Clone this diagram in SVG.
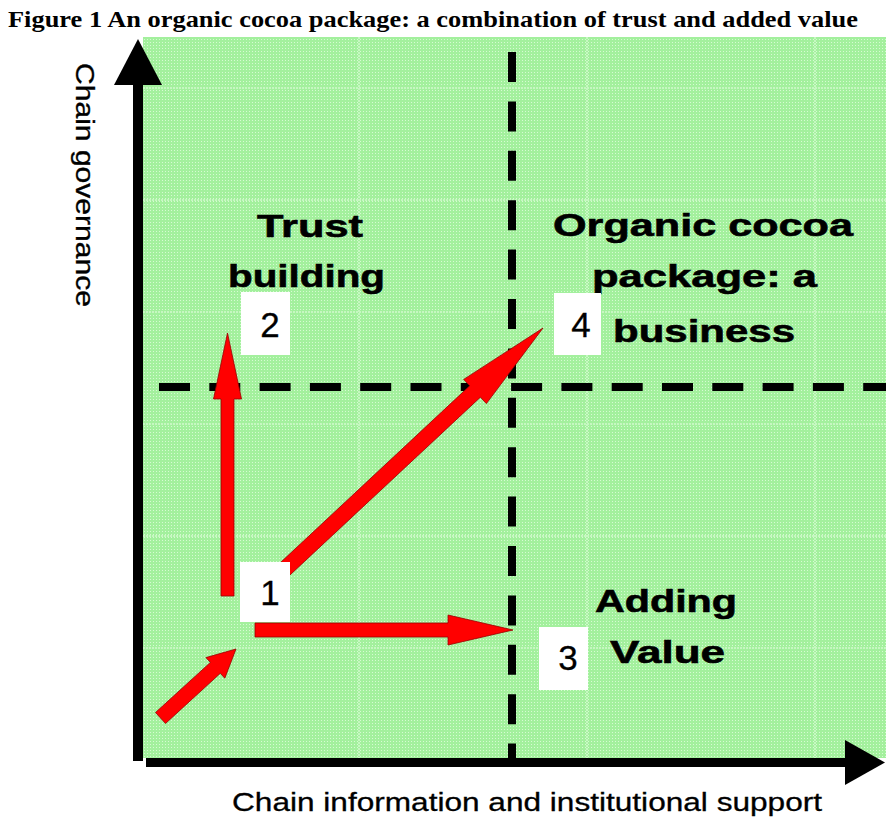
<svg xmlns="http://www.w3.org/2000/svg" width="886" height="817" viewBox="0 0 886 817">
  <style>
    .title { font-family: "Liberation Serif", "Times New Roman", serif; font-weight: bold; font-size: 23px; fill: #000; }
    .axis-label { font-family: "Liberation Sans", Arial, sans-serif; font-size: 26px; fill: #000; stroke: #000; stroke-width: 0.3; }
    .quad { font-family: "Liberation Sans", Arial, sans-serif; font-weight: bold; font-size: 32px; fill: #000; stroke: #000; stroke-width: 0.6; }
    .num { font-family: "Liberation Sans", Arial, sans-serif; font-size: 35px; fill: #000; text-anchor: middle; stroke: #000; stroke-width: 0.3; }
    .box { fill: #ffffff; }
    .grid { stroke: #c6f7c1; stroke-width: 2; stroke-dasharray: 2 1; fill: none; }
    .dash { stroke: #000; stroke-width: 8; fill: none; }
    .red { fill: #ff0000; stroke: #990000; stroke-width: 0.8; stroke-linejoin: miter; }
  </style>
  <defs>
    <pattern id="dots" width="3" height="3" patternUnits="userSpaceOnUse">
      <rect width="3" height="3" fill="#a3f09d"/>
      <rect width="1" height="1" fill="#d6fbd2"/>
    </pattern>
  </defs>

  <rect width="886" height="817" fill="#ffffff"/>

  <text class="title" x="8" y="27" textLength="850" lengthAdjust="spacingAndGlyphs">Figure 1 An organic cocoa package: a combination of trust and added value</text>

  <g id="plot-area">
    <rect x="143" y="37" width="743" height="721" fill="url(#dots)"/>
    <g id="grid">
      <line class="grid" x1="143" y1="88" x2="886" y2="88"/>
      <line class="grid" x1="143" y1="200" x2="886" y2="200"/>
      <line class="grid" x1="143" y1="312" x2="886" y2="312"/>
      <line class="grid" x1="143" y1="424" x2="886" y2="424"/>
      <line class="grid" x1="143" y1="536" x2="886" y2="536"/>
      <line class="grid" x1="143" y1="648" x2="886" y2="648"/>
      <line class="grid" x1="359" y1="37" x2="359" y2="758"/>
      <line class="grid" x1="587" y1="37" x2="587" y2="758"/>
      <line class="grid" x1="815" y1="37" x2="815" y2="758"/>
    </g>
  </g>

  <g id="quadrant-dividers">
    <line class="dash" x1="512" y1="52" x2="512" y2="758" stroke-dasharray="30 19.4"/>
    <line class="dash" x1="159" y1="387" x2="886" y2="387" stroke-dasharray="31 19.3"/>
  </g>

  <g id="axes">
    <rect x="133" y="84" width="10" height="677" fill="#000"/>
    <polygon points="138,39 162,85 114,85" fill="#000"/>
    <rect x="146" y="758" width="700" height="9" fill="#000"/>
    <polygon points="845,740 885,762.5 845,785" fill="#000"/>
    <text class="axis-label" x="232" y="811" textLength="590" lengthAdjust="spacingAndGlyphs">Chain information and institutional support</text>
    <text class="axis-label" transform="translate(76,63) rotate(90)" x="0" y="0" textLength="244" lengthAdjust="spacingAndGlyphs">Chain governance</text>
  </g>

  <g id="connectors">
    <polygon class="red" points="165.5,723.5 220.3,673.3 224.8,678.2 236,649 205.9,657.6 210.4,662.4 155.5,712.5"/>
    <polygon class="red" points="221,596 221,399 213.5,399 227.5,333 241.5,399 234,399 234,596"/>
    <polygon class="red" points="255,623 448,623 448,615 513,630 448,645 448,637 255,637"/>
    <polygon class="red" points="275.3,588.7 480.4,397.2 486.4,403.6 543,328 463.7,379.4 469.7,385.8 264.7,577.3"/>
  </g>

  <g id="label-trust">
    <text class="quad" x="257" y="237" textLength="106" lengthAdjust="spacingAndGlyphs">Trust</text>
    <text class="quad" x="228" y="287" textLength="157" lengthAdjust="spacingAndGlyphs">building</text>
  </g>
  <g id="label-organic">
    <text class="quad" x="553" y="236" textLength="300" lengthAdjust="spacingAndGlyphs">Organic cocoa</text>
    <text class="quad" x="592" y="287" textLength="225" lengthAdjust="spacingAndGlyphs">package: a</text>
    <text class="quad" x="613" y="342" textLength="182" lengthAdjust="spacingAndGlyphs">business</text>
  </g>
  <g id="label-adding">
    <text class="quad" x="595" y="612" textLength="142" lengthAdjust="spacingAndGlyphs">Adding</text>
    <text class="quad" x="610" y="663" textLength="115" lengthAdjust="spacingAndGlyphs">Value</text>
  </g>

  <g id="node-1">
    <rect class="box" x="240" y="562" width="50" height="60"/>
    <text class="num" x="270" y="605">1</text>
  </g>
  <g id="node-2">
    <rect class="box" x="241" y="292" width="49" height="63"/>
    <text class="num" x="270" y="337">2</text>
  </g>
  <g id="node-3">
    <rect class="box" x="539" y="627" width="49" height="63"/>
    <text class="num" x="568" y="670">3</text>
  </g>
  <g id="node-4">
    <rect class="box" x="554" y="293" width="47" height="62"/>
    <text class="num" x="581" y="337">4</text>
  </g>
</svg>
